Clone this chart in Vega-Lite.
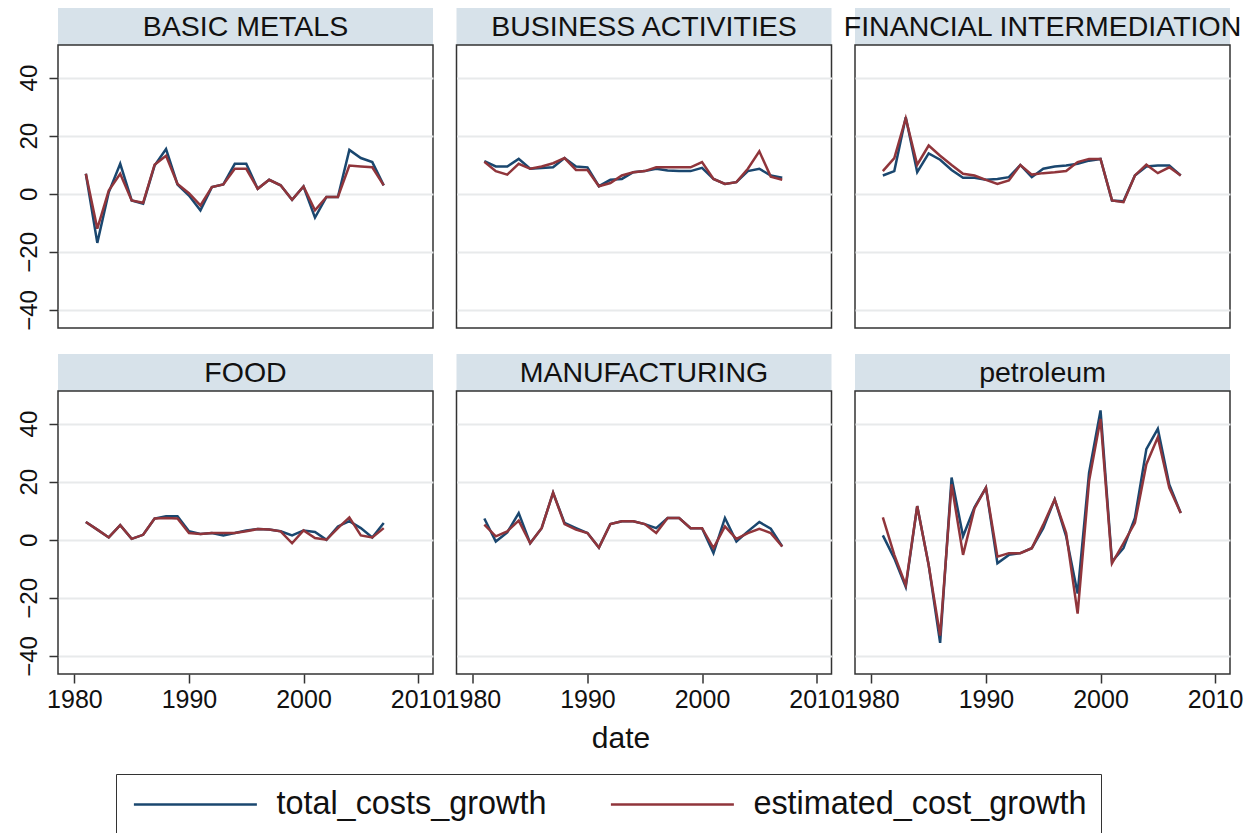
{
"$schema": "https://vega.github.io/schema/vega-lite/v6.json",
"background": "white",
"padding": {"left": 16, "top": 8, "right": 5, "bottom": 0},
"datasets": {"d": [
{"sector":"BASIC METALS","year":1981,"total_costs_growth":6.9,"estimated_cost_growth":6.9},
{"sector":"BASIC METALS","year":1982,"total_costs_growth":-16.9,"estimated_cost_growth":-12},
{"sector":"BASIC METALS","year":1983,"total_costs_growth":0.5,"estimated_cost_growth":1.1},
{"sector":"BASIC METALS","year":1984,"total_costs_growth":10.3,"estimated_cost_growth":6.9},
{"sector":"BASIC METALS","year":1985,"total_costs_growth":-2.3,"estimated_cost_growth":-2.3},
{"sector":"BASIC METALS","year":1986,"total_costs_growth":-3.4,"estimated_cost_growth":-3.1},
{"sector":"BASIC METALS","year":1987,"total_costs_growth":9.7,"estimated_cost_growth":10},
{"sector":"BASIC METALS","year":1988,"total_costs_growth":15.4,"estimated_cost_growth":13.1},
{"sector":"BASIC METALS","year":1989,"total_costs_growth":3.2,"estimated_cost_growth":3.4},
{"sector":"BASIC METALS","year":1990,"total_costs_growth":-0.6,"estimated_cost_growth":0.2},
{"sector":"BASIC METALS","year":1991,"total_costs_growth":-5.7,"estimated_cost_growth":-4},
{"sector":"BASIC METALS","year":1992,"total_costs_growth":2.3,"estimated_cost_growth":2.3},
{"sector":"BASIC METALS","year":1993,"total_costs_growth":3.2,"estimated_cost_growth":3.2},
{"sector":"BASIC METALS","year":1994,"total_costs_growth":10.3,"estimated_cost_growth":8.6},
{"sector":"BASIC METALS","year":1995,"total_costs_growth":10.3,"estimated_cost_growth":8.6},
{"sector":"BASIC METALS","year":1996,"total_costs_growth":1.7,"estimated_cost_growth":1.7},
{"sector":"BASIC METALS","year":1997,"total_costs_growth":4.8,"estimated_cost_growth":4.8},
{"sector":"BASIC METALS","year":1998,"total_costs_growth":2.9,"estimated_cost_growth":2.9},
{"sector":"BASIC METALS","year":1999,"total_costs_growth":-2.1,"estimated_cost_growth":-2.1},
{"sector":"BASIC METALS","year":2000,"total_costs_growth":2.5,"estimated_cost_growth":2.5},
{"sector":"BASIC METALS","year":2001,"total_costs_growth":-8.2,"estimated_cost_growth":-5.7},
{"sector":"BASIC METALS","year":2002,"total_costs_growth":-1.1,"estimated_cost_growth":-1.1},
{"sector":"BASIC METALS","year":2003,"total_costs_growth":-1.1,"estimated_cost_growth":-1.1},
{"sector":"BASIC METALS","year":2004,"total_costs_growth":15.1,"estimated_cost_growth":9.7},
{"sector":"BASIC METALS","year":2005,"total_costs_growth":12.3,"estimated_cost_growth":9.4},
{"sector":"BASIC METALS","year":2006,"total_costs_growth":10.9,"estimated_cost_growth":9.1},
{"sector":"BASIC METALS","year":2007,"total_costs_growth":2.9,"estimated_cost_growth":2.9},
{"sector":"BUSINESS ACTIVITIES","year":1981,"total_costs_growth":11.2,"estimated_cost_growth":11.0},
{"sector":"BUSINESS ACTIVITIES","year":1982,"total_costs_growth":9.4,"estimated_cost_growth":7.8},
{"sector":"BUSINESS ACTIVITIES","year":1983,"total_costs_growth":9.4,"estimated_cost_growth":6.6},
{"sector":"BUSINESS ACTIVITIES","year":1984,"total_costs_growth":12.0,"estimated_cost_growth":10.3},
{"sector":"BUSINESS ACTIVITIES","year":1985,"total_costs_growth":8.6,"estimated_cost_growth":8.6},
{"sector":"BUSINESS ACTIVITIES","year":1986,"total_costs_growth":8.9,"estimated_cost_growth":9.4},
{"sector":"BUSINESS ACTIVITIES","year":1987,"total_costs_growth":9.1,"estimated_cost_growth":10.5},
{"sector":"BUSINESS ACTIVITIES","year":1988,"total_costs_growth":12.3,"estimated_cost_growth":12.3},
{"sector":"BUSINESS ACTIVITIES","year":1989,"total_costs_growth":9.4,"estimated_cost_growth":8.2},
{"sector":"BUSINESS ACTIVITIES","year":1990,"total_costs_growth":9.1,"estimated_cost_growth":8.2},
{"sector":"BUSINESS ACTIVITIES","year":1991,"total_costs_growth":2.6,"estimated_cost_growth":2.6},
{"sector":"BUSINESS ACTIVITIES","year":1992,"total_costs_growth":4.8,"estimated_cost_growth":3.7},
{"sector":"BUSINESS ACTIVITIES","year":1993,"total_costs_growth":5.1,"estimated_cost_growth":6.3},
{"sector":"BUSINESS ACTIVITIES","year":1994,"total_costs_growth":7.4,"estimated_cost_growth":7.4},
{"sector":"BUSINESS ACTIVITIES","year":1995,"total_costs_growth":7.8,"estimated_cost_growth":7.8},
{"sector":"BUSINESS ACTIVITIES","year":1996,"total_costs_growth":8.6,"estimated_cost_growth":9.1},
{"sector":"BUSINESS ACTIVITIES","year":1997,"total_costs_growth":8.0,"estimated_cost_growth":9.1},
{"sector":"BUSINESS ACTIVITIES","year":1998,"total_costs_growth":7.8,"estimated_cost_growth":9.1},
{"sector":"BUSINESS ACTIVITIES","year":1999,"total_costs_growth":7.8,"estimated_cost_growth":9.1},
{"sector":"BUSINESS ACTIVITIES","year":2000,"total_costs_growth":8.9,"estimated_cost_growth":10.9},
{"sector":"BUSINESS ACTIVITIES","year":2001,"total_costs_growth":5.1,"estimated_cost_growth":5.1},
{"sector":"BUSINESS ACTIVITIES","year":2002,"total_costs_growth":3.4,"estimated_cost_growth":3.4},
{"sector":"BUSINESS ACTIVITIES","year":2003,"total_costs_growth":4.0,"estimated_cost_growth":4.0},
{"sector":"BUSINESS ACTIVITIES","year":2004,"total_costs_growth":7.8,"estimated_cost_growth":8.6},
{"sector":"BUSINESS ACTIVITIES","year":2005,"total_costs_growth":8.6,"estimated_cost_growth":14.6},
{"sector":"BUSINESS ACTIVITIES","year":2006,"total_costs_growth":6.3,"estimated_cost_growth":5.9},
{"sector":"BUSINESS ACTIVITIES","year":2007,"total_costs_growth":5.5,"estimated_cost_growth":4.8},
{"sector":"FINANCIAL INTERMEDIATION","year":1981,"total_costs_growth":6.3,"estimated_cost_growth":7.8},
{"sector":"FINANCIAL INTERMEDIATION","year":1982,"total_costs_growth":7.8,"estimated_cost_growth":12.3},
{"sector":"FINANCIAL INTERMEDIATION","year":1983,"total_costs_growth":26.3,"estimated_cost_growth":26.0},
{"sector":"FINANCIAL INTERMEDIATION","year":1984,"total_costs_growth":7.4,"estimated_cost_growth":10.0},
{"sector":"FINANCIAL INTERMEDIATION","year":1985,"total_costs_growth":13.9,"estimated_cost_growth":16.6},
{"sector":"FINANCIAL INTERMEDIATION","year":1986,"total_costs_growth":11.7,"estimated_cost_growth":13.1},
{"sector":"FINANCIAL INTERMEDIATION","year":1987,"total_costs_growth":8.2,"estimated_cost_growth":9.9},
{"sector":"FINANCIAL INTERMEDIATION","year":1988,"total_costs_growth":5.5,"estimated_cost_growth":6.9},
{"sector":"FINANCIAL INTERMEDIATION","year":1989,"total_costs_growth":5.5,"estimated_cost_growth":6.3},
{"sector":"FINANCIAL INTERMEDIATION","year":1990,"total_costs_growth":4.8,"estimated_cost_growth":4.8},
{"sector":"FINANCIAL INTERMEDIATION","year":1991,"total_costs_growth":5.1,"estimated_cost_growth":3.4},
{"sector":"FINANCIAL INTERMEDIATION","year":1992,"total_costs_growth":5.7,"estimated_cost_growth":4.6},
{"sector":"FINANCIAL INTERMEDIATION","year":1993,"total_costs_growth":9.9,"estimated_cost_growth":9.9},
{"sector":"FINANCIAL INTERMEDIATION","year":1994,"total_costs_growth":5.7,"estimated_cost_growth":6.6},
{"sector":"FINANCIAL INTERMEDIATION","year":1995,"total_costs_growth":8.6,"estimated_cost_growth":7.1},
{"sector":"FINANCIAL INTERMEDIATION","year":1996,"total_costs_growth":9.4,"estimated_cost_growth":7.4},
{"sector":"FINANCIAL INTERMEDIATION","year":1997,"total_costs_growth":9.7,"estimated_cost_growth":7.8},
{"sector":"FINANCIAL INTERMEDIATION","year":1998,"total_costs_growth":10.3,"estimated_cost_growth":10.9},
{"sector":"FINANCIAL INTERMEDIATION","year":1999,"total_costs_growth":11.4,"estimated_cost_growth":12.0},
{"sector":"FINANCIAL INTERMEDIATION","year":2000,"total_costs_growth":12.0,"estimated_cost_growth":12.0},
{"sector":"FINANCIAL INTERMEDIATION","year":2001,"total_costs_growth":-2.3,"estimated_cost_growth":-2.3},
{"sector":"FINANCIAL INTERMEDIATION","year":2002,"total_costs_growth":-2.6,"estimated_cost_growth":-2.9},
{"sector":"FINANCIAL INTERMEDIATION","year":2003,"total_costs_growth":6.3,"estimated_cost_growth":6.3},
{"sector":"FINANCIAL INTERMEDIATION","year":2004,"total_costs_growth":9.4,"estimated_cost_growth":10.0},
{"sector":"FINANCIAL INTERMEDIATION","year":2005,"total_costs_growth":9.7,"estimated_cost_growth":7.1},
{"sector":"FINANCIAL INTERMEDIATION","year":2006,"total_costs_growth":9.7,"estimated_cost_growth":9.1},
{"sector":"FINANCIAL INTERMEDIATION","year":2007,"total_costs_growth":6.3,"estimated_cost_growth":6.3},
{"sector":"FOOD","year":1981,"total_costs_growth":6.1,"estimated_cost_growth":6.1},
{"sector":"FOOD","year":1982,"total_costs_growth":3.5,"estimated_cost_growth":3.5},
{"sector":"FOOD","year":1983,"total_costs_growth":0.8,"estimated_cost_growth":0.8},
{"sector":"FOOD","year":1984,"total_costs_growth":5.0,"estimated_cost_growth":5.0},
{"sector":"FOOD","year":1985,"total_costs_growth":0.3,"estimated_cost_growth":0.3},
{"sector":"FOOD","year":1986,"total_costs_growth":1.7,"estimated_cost_growth":1.7},
{"sector":"FOOD","year":1987,"total_costs_growth":7.3,"estimated_cost_growth":7.3},
{"sector":"FOOD","year":1988,"total_costs_growth":8.1,"estimated_cost_growth":7.5},
{"sector":"FOOD","year":1989,"total_costs_growth":8.1,"estimated_cost_growth":7.3},
{"sector":"FOOD","year":1990,"total_costs_growth":2.9,"estimated_cost_growth":2.3},
{"sector":"FOOD","year":1991,"total_costs_growth":2.0,"estimated_cost_growth":2.0},
{"sector":"FOOD","year":1992,"total_costs_growth":2.3,"estimated_cost_growth":2.3},
{"sector":"FOOD","year":1993,"total_costs_growth":1.5,"estimated_cost_growth":2.3},
{"sector":"FOOD","year":1994,"total_costs_growth":2.3,"estimated_cost_growth":2.3},
{"sector":"FOOD","year":1995,"total_costs_growth":3.2,"estimated_cost_growth":2.9},
{"sector":"FOOD","year":1996,"total_costs_growth":3.7,"estimated_cost_growth":3.7},
{"sector":"FOOD","year":1997,"total_costs_growth":3.5,"estimated_cost_growth":3.5},
{"sector":"FOOD","year":1998,"total_costs_growth":2.9,"estimated_cost_growth":2.9},
{"sector":"FOOD","year":1999,"total_costs_growth":1.5,"estimated_cost_growth":-1.2},
{"sector":"FOOD","year":2000,"total_costs_growth":3.2,"estimated_cost_growth":3.2},
{"sector":"FOOD","year":2001,"total_costs_growth":2.7,"estimated_cost_growth":0.6},
{"sector":"FOOD","year":2002,"total_costs_growth":0.0,"estimated_cost_growth":0.0},
{"sector":"FOOD","year":2003,"total_costs_growth":4.6,"estimated_cost_growth":4.0},
{"sector":"FOOD","year":2004,"total_costs_growth":6.4,"estimated_cost_growth":7.7},
{"sector":"FOOD","year":2005,"total_costs_growth":4.0,"estimated_cost_growth":1.5},
{"sector":"FOOD","year":2006,"total_costs_growth":0.8,"estimated_cost_growth":0.8},
{"sector":"FOOD","year":2007,"total_costs_growth":5.8,"estimated_cost_growth":4.0},
{"sector":"MANUFACTURING","year":1981,"total_costs_growth":7.3,"estimated_cost_growth":5.2},
{"sector":"MANUFACTURING","year":1982,"total_costs_growth":-0.6,"estimated_cost_growth":1.2},
{"sector":"MANUFACTURING","year":1983,"total_costs_growth":2.5,"estimated_cost_growth":2.9},
{"sector":"MANUFACTURING","year":1984,"total_costs_growth":9.2,"estimated_cost_growth":6.6},
{"sector":"MANUFACTURING","year":1985,"total_costs_growth":-1.2,"estimated_cost_growth":-1.2},
{"sector":"MANUFACTURING","year":1986,"total_costs_growth":4.0,"estimated_cost_growth":4.0},
{"sector":"MANUFACTURING","year":1987,"total_costs_growth":16.2,"estimated_cost_growth":16.2},
{"sector":"MANUFACTURING","year":1988,"total_costs_growth":5.8,"estimated_cost_growth":5.4},
{"sector":"MANUFACTURING","year":1989,"total_costs_growth":4.0,"estimated_cost_growth":3.5},
{"sector":"MANUFACTURING","year":1990,"total_costs_growth":2.3,"estimated_cost_growth":2.3},
{"sector":"MANUFACTURING","year":1991,"total_costs_growth":-2.7,"estimated_cost_growth":-2.7},
{"sector":"MANUFACTURING","year":1992,"total_costs_growth":5.4,"estimated_cost_growth":5.4},
{"sector":"MANUFACTURING","year":1993,"total_costs_growth":6.4,"estimated_cost_growth":6.4},
{"sector":"MANUFACTURING","year":1994,"total_costs_growth":6.4,"estimated_cost_growth":6.4},
{"sector":"MANUFACTURING","year":1995,"total_costs_growth":5.4,"estimated_cost_growth":5.4},
{"sector":"MANUFACTURING","year":1996,"total_costs_growth":4.0,"estimated_cost_growth":2.3},
{"sector":"MANUFACTURING","year":1997,"total_costs_growth":7.5,"estimated_cost_growth":7.5},
{"sector":"MANUFACTURING","year":1998,"total_costs_growth":7.5,"estimated_cost_growth":7.5},
{"sector":"MANUFACTURING","year":1999,"total_costs_growth":4.0,"estimated_cost_growth":4.0},
{"sector":"MANUFACTURING","year":2000,"total_costs_growth":4.0,"estimated_cost_growth":4.0},
{"sector":"MANUFACTURING","year":2001,"total_costs_growth":-4.6,"estimated_cost_growth":-2.9},
{"sector":"MANUFACTURING","year":2002,"total_costs_growth":7.5,"estimated_cost_growth":4.6},
{"sector":"MANUFACTURING","year":2003,"total_costs_growth":-0.6,"estimated_cost_growth":0.3},
{"sector":"MANUFACTURING","year":2004,"total_costs_growth":2.9,"estimated_cost_growth":2.3},
{"sector":"MANUFACTURING","year":2005,"total_costs_growth":6.1,"estimated_cost_growth":3.8},
{"sector":"MANUFACTURING","year":2006,"total_costs_growth":3.8,"estimated_cost_growth":2.3},
{"sector":"MANUFACTURING","year":2007,"total_costs_growth":-2.3,"estimated_cost_growth":-2.3},
{"sector":"petroleum","year":1981,"total_costs_growth":1.5,"estimated_cost_growth":7.7},
{"sector":"petroleum","year":1982,"total_costs_growth":-6.4,"estimated_cost_growth":-5.2},
{"sector":"petroleum","year":1983,"total_costs_growth":-16.2,"estimated_cost_growth":-15.6},
{"sector":"petroleum","year":1984,"total_costs_growth":11.6,"estimated_cost_growth":11.6},
{"sector":"petroleum","year":1985,"total_costs_growth":-8.7,"estimated_cost_growth":-8.7},
{"sector":"petroleum","year":1986,"total_costs_growth":-35.5,"estimated_cost_growth":-33.0},
{"sector":"petroleum","year":1987,"total_costs_growth":21.4,"estimated_cost_growth":19.1},
{"sector":"petroleum","year":1988,"total_costs_growth":1.2,"estimated_cost_growth":-5.2},
{"sector":"petroleum","year":1989,"total_costs_growth":11.2,"estimated_cost_growth":10.8},
{"sector":"petroleum","year":1990,"total_costs_growth":17.9,"estimated_cost_growth":17.9},
{"sector":"petroleum","year":1991,"total_costs_growth":-8.1,"estimated_cost_growth":-5.8},
{"sector":"petroleum","year":1992,"total_costs_growth":-5.2,"estimated_cost_growth":-4.6},
{"sector":"petroleum","year":1993,"total_costs_growth":-4.6,"estimated_cost_growth":-4.6},
{"sector":"petroleum","year":1994,"total_costs_growth":-2.9,"estimated_cost_growth":-2.9},
{"sector":"petroleum","year":1995,"total_costs_growth":4.0,"estimated_cost_growth":5.2},
{"sector":"petroleum","year":1996,"total_costs_growth":13.9,"estimated_cost_growth":13.9},
{"sector":"petroleum","year":1997,"total_costs_growth":1.2,"estimated_cost_growth":2.3},
{"sector":"petroleum","year":1998,"total_costs_growth":-18.5,"estimated_cost_growth":-25.4},
{"sector":"petroleum","year":1999,"total_costs_growth":23.1,"estimated_cost_growth":20.2},
{"sector":"petroleum","year":2000,"total_costs_growth":44.5,"estimated_cost_growth":41.6},
{"sector":"petroleum","year":2001,"total_costs_growth":-7.5,"estimated_cost_growth":-8.1},
{"sector":"petroleum","year":2002,"total_costs_growth":-2.9,"estimated_cost_growth":-1.2},
{"sector":"petroleum","year":2003,"total_costs_growth":7.5,"estimated_cost_growth":5.8},
{"sector":"petroleum","year":2004,"total_costs_growth":31.2,"estimated_cost_growth":26.0},
{"sector":"petroleum","year":2005,"total_costs_growth":38.2,"estimated_cost_growth":35.3},
{"sector":"petroleum","year":2006,"total_costs_growth":19.0,"estimated_cost_growth":17.9},
{"sector":"petroleum","year":2007,"total_costs_growth":9.2,"estimated_cost_growth":9.2}
]},
"config": {
  "font": "Liberation Sans",
  "view": {"stroke": "#333333", "strokeWidth": 1.5},
  "axis": {"labelFont": "Liberation Sans", "labelFontSize": 25, "labelColor": "#111111", "tickColor": "#333333", "tickSize": 9, "tickWidth": 1.5, "domain": false, "gridColor": "#e8eaeb", "gridWidth": 2, "titleFont": "Liberation Sans", "titleFontSize": 30, "titleFontWeight": "normal", "titleColor": "#111111"},
  "legend": {"labelFont": "Liberation Sans"}
},
"spacing": 22,
"vconcat": [
{"columns": 3, "bounds": "flush", "spacing": {"row": 0, "column": 23.5}, "concat": [
  {"width": 375, "height": 37, "data": {"values": [{"sector": "BASIC METALS"}]}, "view": {"fill": "#d7e2ea"}, "mark": {"type": "text", "fontSize": 28.5, "font": "Liberation Sans", "color": "#111111", "baseline": "middle"}, "encoding": {"text": {"field": "sector"}}},
  {"width": 375, "height": 37, "data": {"values": [{"sector": "BUSINESS ACTIVITIES"}]}, "view": {"fill": "#d7e2ea"}, "mark": {"type": "text", "fontSize": 28.5, "font": "Liberation Sans", "color": "#111111", "baseline": "middle"}, "encoding": {"text": {"field": "sector"}}},
  {"width": 375, "height": 37, "data": {"values": [{"sector": "FINANCIAL INTERMEDIATION"}]}, "view": {"fill": "#d7e2ea"}, "mark": {"type": "text", "fontSize": 28.5, "font": "Liberation Sans", "color": "#111111", "baseline": "middle"}, "encoding": {"text": {"field": "sector"}}},
  {"width": 375, "height": 283, "data": {"name": "d"}, "transform": [{"filter": {"field": "sector", "equal": "BASIC METALS"}}, {"fold": ["total_costs_growth", "estimated_cost_growth"], "as": ["series", "value"]}],
   "mark": {"type": "line", "strokeWidth": 2.5},
   "encoding": {
    "x": {"field": "year", "type": "quantitative", "scale": {"domain": [1978.57, 2011.3], "nice": false, "zero": false}, "axis": null},
    "y": {"field": "value", "type": "quantitative", "scale": {"domain": [-46.2, 51.2], "nice": false}, "axis": {"values": [-40, -20, 0, 20, 40], "labelAngle": -90, "labelAlign": "center", "labelBaseline": "bottom", "labelPadding": 8, "labelFontSize": 24, "title": null, "grid": true}},
    "color": {"field": "series", "type": "nominal", "scale": {"domain": ["total_costs_growth", "estimated_cost_growth"], "range": ["#1a476f", "#90353b"]}, "legend": {"title": null, "orient": "none", "legendX": 58, "legendY": 766, "direction": "horizontal", "symbolType": "M-1,0H9", "symbolSize": 605, "symbolStrokeWidth": 2.5, "labelFontSize": 32.4, "labelOffset": 114, "columnPadding": 58, "padding": 14, "strokeColor": "#333333", "fillColor": "white", "labelColor": "#111111", "labelLimit": 0}}
   }},
  {"width": 375, "height": 283, "data": {"name": "d"}, "transform": [{"filter": {"field": "sector", "equal": "BUSINESS ACTIVITIES"}}, {"fold": ["total_costs_growth", "estimated_cost_growth"], "as": ["series", "value"]}],
   "mark": {"type": "line", "strokeWidth": 2.5},
   "encoding": {
    "x": {"field": "year", "type": "quantitative", "scale": {"domain": [1978.57, 2011.3], "nice": false, "zero": false}, "axis": null},
    "y": {"field": "value", "type": "quantitative", "scale": {"domain": [-46.2, 51.2], "nice": false}, "axis": {"values": [-40, -20, 0, 20, 40], "labels": false, "ticks": false, "title": null, "grid": true}},
    "color": {"field": "series", "type": "nominal", "scale": {"domain": ["total_costs_growth", "estimated_cost_growth"], "range": ["#1a476f", "#90353b"]}}
   }},
  {"width": 375, "height": 283, "data": {"name": "d"}, "transform": [{"filter": {"field": "sector", "equal": "FINANCIAL INTERMEDIATION"}}, {"fold": ["total_costs_growth", "estimated_cost_growth"], "as": ["series", "value"]}],
   "mark": {"type": "line", "strokeWidth": 2.5},
   "encoding": {
    "x": {"field": "year", "type": "quantitative", "scale": {"domain": [1978.57, 2011.3], "nice": false, "zero": false}, "axis": null},
    "y": {"field": "value", "type": "quantitative", "scale": {"domain": [-46.2, 51.2], "nice": false}, "axis": {"values": [-40, -20, 0, 20, 40], "labels": false, "ticks": false, "title": null, "grid": true}},
    "color": {"field": "series", "type": "nominal", "scale": {"domain": ["total_costs_growth", "estimated_cost_growth"], "range": ["#1a476f", "#90353b"]}}
   }}
]},
{"columns": 3, "bounds": "flush", "spacing": {"row": 0, "column": 23.5}, "concat": [
  {"width": 375, "height": 37, "data": {"values": [{"sector": "FOOD"}]}, "view": {"fill": "#d7e2ea"}, "mark": {"type": "text", "fontSize": 28.5, "font": "Liberation Sans", "color": "#111111", "baseline": "middle"}, "encoding": {"text": {"field": "sector"}}},
  {"width": 375, "height": 37, "data": {"values": [{"sector": "MANUFACTURING"}]}, "view": {"fill": "#d7e2ea"}, "mark": {"type": "text", "fontSize": 28.5, "font": "Liberation Sans", "color": "#111111", "baseline": "middle"}, "encoding": {"text": {"field": "sector"}}},
  {"width": 375, "height": 37, "data": {"values": [{"sector": "petroleum"}]}, "view": {"fill": "#d7e2ea"}, "mark": {"type": "text", "fontSize": 28.5, "font": "Liberation Sans", "color": "#111111", "baseline": "middle"}, "encoding": {"text": {"field": "sector"}}},
  {"width": 375, "height": 283, "data": {"name": "d"}, "transform": [{"filter": {"field": "sector", "equal": "FOOD"}}, {"fold": ["total_costs_growth", "estimated_cost_growth"], "as": ["series", "value"]}],
   "mark": {"type": "line", "strokeWidth": 2.5},
   "encoding": {
    "x": {"field": "year", "type": "quantitative", "scale": {"domain": [1978.57, 2011.3], "nice": false, "zero": false}, "axis": {"values": [1980, 1990, 2000, 2010], "format": "d", "grid": false, "labelFlush": false, "labelOverlap": false, "labelPadding": 4, "title": null}},
    "y": {"field": "value", "type": "quantitative", "scale": {"domain": [-46.2, 51.2], "nice": false}, "axis": {"values": [-40, -20, 0, 20, 40], "labelAngle": -90, "labelAlign": "center", "labelBaseline": "bottom", "labelPadding": 8, "labelFontSize": 24, "title": null, "grid": true}},
    "color": {"field": "series", "type": "nominal", "scale": {"domain": ["total_costs_growth", "estimated_cost_growth"], "range": ["#1a476f", "#90353b"]}}
   }},
  {"width": 375, "height": 283, "data": {"name": "d"}, "transform": [{"filter": {"field": "sector", "equal": "MANUFACTURING"}}, {"fold": ["total_costs_growth", "estimated_cost_growth"], "as": ["series", "value"]}],
   "mark": {"type": "line", "strokeWidth": 2.5},
   "encoding": {
    "x": {"field": "year", "type": "quantitative", "scale": {"domain": [1978.57, 2011.3], "nice": false, "zero": false}, "axis": {"values": [1980, 1990, 2000, 2010], "format": "d", "grid": false, "labelFlush": false, "labelOverlap": false, "labelPadding": 4, "title": "date", "titlePadding": 11, "titleX": 164}},
    "y": {"field": "value", "type": "quantitative", "scale": {"domain": [-46.2, 51.2], "nice": false}, "axis": {"values": [-40, -20, 0, 20, 40], "labels": false, "ticks": false, "title": null, "grid": true}},
    "color": {"field": "series", "type": "nominal", "scale": {"domain": ["total_costs_growth", "estimated_cost_growth"], "range": ["#1a476f", "#90353b"]}}
   }},
  {"width": 375, "height": 283, "data": {"name": "d"}, "transform": [{"filter": {"field": "sector", "equal": "petroleum"}}, {"fold": ["total_costs_growth", "estimated_cost_growth"], "as": ["series", "value"]}],
   "mark": {"type": "line", "strokeWidth": 2.5},
   "encoding": {
    "x": {"field": "year", "type": "quantitative", "scale": {"domain": [1978.57, 2011.3], "nice": false, "zero": false}, "axis": {"values": [1980, 1990, 2000, 2010], "format": "d", "grid": false, "labelFlush": false, "labelOverlap": false, "labelPadding": 4, "title": null}},
    "y": {"field": "value", "type": "quantitative", "scale": {"domain": [-46.2, 51.2], "nice": false}, "axis": {"values": [-40, -20, 0, 20, 40], "labels": false, "ticks": false, "title": null, "grid": true}},
    "color": {"field": "series", "type": "nominal", "scale": {"domain": ["total_costs_growth", "estimated_cost_growth"], "range": ["#1a476f", "#90353b"]}}
   }}
]}
]
}
